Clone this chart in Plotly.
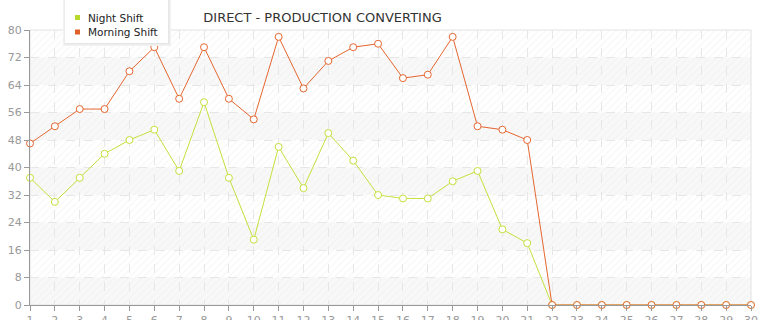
import plotly.graph_objects as go

days = list(range(1, 31))
night_shift = [37, 30, 37, 44, 48, 51, 39, 59, 37, 19, 46, 34, 50, 42, 32, 31, 31, 36, 39, 22, 18,
               0, 0, 0, 0, 0, 0, 0, 0, 0]
morning_shift = [47, 52, 57, 57, 68, 75, 60, 75, 60, 54, 78, 63, 71, 75, 76, 66, 67, 78, 52, 51, 48,
                 0, 0, 0, 0, 0, 0, 0, 0, 0]
y_ticks = list(range(0, 81, 8))
series_names = ["Night Shift", "Morning Shift"]
title_text = "DIRECT - PRODUCTION CONVERTING"

GREEN = "#c5e03c"
ORANGE = "#e5662f"
SWATCH = ["#b8d82c", "#e0602a"]
FONT = "DejaVu Sans"

W, H = 765, 320
ML, MR, MT, MB = 30, 14, 30, 15
PW, PH = W - ML - MR, H - MT - MB


def px_x(p):
    return (p - ML) / PW


def px_y(p):
    return (H - MB - p) / PH


xr = [days[0], days[-1]]
yr = [y_ticks[0], y_ticks[-1]]

fig = go.Figure()

# hatched background texture over the whole plotting area
fig.add_trace(go.Scatter(
    x=[xr[0], xr[1], xr[1], xr[0], xr[0]],
    y=[yr[0], yr[0], yr[1], yr[1], yr[0]],
    mode="none", fill="toself",
    fillpattern=dict(shape="/", fgcolor="#ebebeb", bgcolor="rgba(0,0,0,0)", size=5, solidity=0.2),
    hoverinfo="skip", showlegend=False,
))

# alternate light grey bands
for i in range(0, len(y_ticks) - 1, 2):
    fig.add_shape(type="rect", xref="paper", yref="y", x0=0, x1=1,
                  y0=y_ticks[i], y1=y_ticks[i + 1],
                  fillcolor="#f8f8f8", line_width=0, layer="below")

# light frame on top/right
fig.add_shape(type="rect", xref="paper", yref="paper", x0=0, x1=1, y0=0, y1=1,
              line=dict(color="#e2e2e2", width=1), fillcolor="rgba(0,0,0,0)", layer="below")

fig.add_trace(go.Scatter(
    x=days, y=night_shift, mode="lines+markers", name=series_names[0],
    line=dict(color=GREEN, width=1),
    marker=dict(symbol="circle", size=7, color="white", line=dict(color=GREEN, width=1)),
    cliponaxis=False, showlegend=False,
))
fig.add_trace(go.Scatter(
    x=days, y=morning_shift, mode="lines+markers", name=series_names[1],
    line=dict(color=ORANGE, width=1),
    marker=dict(symbol="circle", size=7, color="white", line=dict(color=ORANGE, width=1)),
    cliponaxis=False, showlegend=False,
))

# custom legend box (shadow + box)
for off, col in [(3, "#f2f2f2"), (2, "#ececec"), (1, "#e6e6e6")]:
    fig.add_shape(type="rect", xref="paper", yref="paper",
                  x0=px_x(65 - off + 1), x1=px_x(168 + off), y0=px_y(43 + off), y1=px_y(-5),
                  fillcolor=col, line_width=0, layer="above")
fig.add_shape(type="rect", xref="paper", yref="paper",
              x0=px_x(65), x1=px_x(168), y0=px_y(43), y1=px_y(-5),
              fillcolor="white", line_width=0, layer="above")
for k, nm in enumerate(series_names):
    yc = 17.5 + 14.5 * k
    fig.add_shape(type="rect", xref="paper", yref="paper",
                  x0=px_x(75), x1=px_x(80), y0=px_y(yc + 2.5), y1=px_y(yc - 2.5),
                  fillcolor=SWATCH[k], line_width=0, layer="above")
    fig.add_annotation(text=nm, xref="paper", yref="paper", x=px_x(86), y=px_y(yc),
                       xanchor="left", yanchor="middle", showarrow=False,
                       font=dict(family=FONT, size=10.5, color="#222222"))

fig.update_layout(
    width=W, height=H,
    margin=dict(l=ML, r=MR, t=MT, b=MB, autoexpand=False),
    paper_bgcolor="white", plot_bgcolor="white",
    font=dict(family=FONT, size=11, color="#999999"),
    title=dict(text=title_text, xref="container", yref="container",
               x=322.5 / W, xanchor="center", y=1 - 17 / H, yanchor="middle",
               font=dict(family=FONT, size=13, color="#333333")),
    showlegend=False,
    xaxis=dict(range=xr, tickmode="array", tickvals=days, ticktext=[str(d) for d in days],
               showgrid=True, gridcolor="#e6e6e6", griddash="dash", gridwidth=1,
               showline=True, linecolor="#999999", linewidth=1, automargin=False,
               ticks="outside", ticklen=5, tickcolor="#999999", zeroline=False,
               tickfont=dict(size=11, color="#999999")),
    yaxis=dict(range=yr, tickmode="array", tickvals=y_ticks, automargin=False,
               showgrid=True, gridcolor="#e6e6e6", griddash="dash", gridwidth=1,
               showline=True, linecolor="#999999", linewidth=1,
               ticks="outside", ticklen=5, tickcolor="#999999", zeroline=False,
               tickfont=dict(size=11, color="#999999")),
)

fig.write_html("out.html")
